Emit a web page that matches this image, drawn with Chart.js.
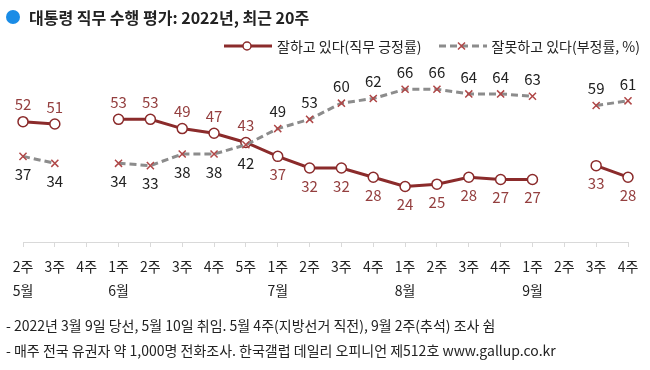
<!DOCTYPE html>
<html>
<head>
<meta charset="utf-8">
<script src="https://cdn.jsdelivr.net/npm/chart.js@4"></script>
<style>
  body { margin: 0; background: #fff; font-family: "Noto Sans CJK KR", sans-serif; color: #222; }
  .wrap { position: relative; width: 650px; height: 370px; overflow: hidden; }
  canvas { position: absolute; left: 0; top: 0; }
  .title { position: absolute; left: 6px; top: 5px; font-size: 16px; font-weight: 700; line-height: 24px; display: flex; align-items: center; }
  .title .dot { width: 14px; height: 14px; border-radius: 50%; background: #1a8ce6; margin-right: 9px; }
  .legend { position: absolute; right: 10px; top: 35px; font-size: 14px; line-height: 22px; display: flex; align-items: center; }
  .legend .item { display: flex; align-items: center; }
  .legend svg { margin-right: 4px; }
  .legend .item + .item { margin-left: 16px; }
  .notes { position: absolute; left: 6px; top: 313px; font-size: 14px; line-height: 25px; }
</style>
</head>
<body>
<div class="wrap">
  <canvas id="chart" width="650" height="370"></canvas>
  <div class="title"><span class="dot"></span>대통령 직무 수행 평가: 2022년, 최근 20주</div>
  <div class="legend">
    <div class="item">
      <svg width="50" height="12"><line x1="1" y1="6" x2="49" y2="6" stroke="#8b2b2b" stroke-width="3"/><circle cx="24" cy="6" r="4" fill="#fff" stroke="#8b2b2b" stroke-width="1.5"/></svg>
      <span>잘하고 있다(직무 긍정률)</span>
    </div>
    <div class="item">
      <svg width="50" height="12"><line x1="1" y1="6" x2="49" y2="6" stroke="#8c8c8c" stroke-width="3" stroke-dasharray="7 4"/><path d="M20 2.5 L27 9.5 M27 2.5 L20 9.5" stroke="#b04848" stroke-width="1.5"/></svg>
      <span>잘못하고 있다(부정률, %)</span>
    </div>
  </div>
  <div class="notes">
    <div>- 2022년 3월 9일 당선, 5월 10일 취임. 5월 4주(지방선거 직전), 9월 2주(추석) 조사 쉼</div>
    <div>- 매주 전국 유권자 약 1,000명 전화조사. 한국갤럽 데일리 오피니언 제512호 www.gallup.co.kr</div>
  </div>
</div>
<script>
const weeks = ['2주', '3주', '4주', '1주', '2주', '3주', '4주', '5주', '1주', '2주', '3주', '4주', '1주', '2주', '3주', '4주', '1주', '2주', '3주', '4주'];
const months = ['5월', '', '', '6월', '', '', '', '', '7월', '', '', '', '8월', '', '', '', '9월', '', '', ''];
const approve = [52, 51, null, 53, 53, 49, 47, 43, 37, 32, 32, 28, 24, 25, 28, 27, 27, null, 33, 28];
const disapprove = [37, 34, null, 34, 33, 38, 38, 42, 49, 53, 60, 62, 66, 66, 64, 64, 63, null, 59, 61];

const labels = weeks.map((w, i) => [w, months[i]]);

// value labels: whichever series is higher gets its label above the point
const valueLabels = {
  id: 'valueLabels',
  afterDatasetsDraw(chart) {
    const ctx = chart.ctx;
    ctx.save();
    ctx.font = '15px "Noto Sans CJK KR"';
    ctx.textAlign = 'center';
    ctx.textBaseline = 'middle';
    chart.data.datasets.forEach((ds, di) => {
      const other = chart.data.datasets[1 - di].data;
      chart.getDatasetMeta(di).data.forEach((pt, i) => {
        const v = ds.data[i];
        if (v == null) return;
        const above = v > other[i];
        ctx.fillStyle = di === 0 ? '#943f3f' : '#222';
        ctx.fillText(String(v), pt.x, pt.y + (above ? -17 : 18));
      });
    });
    ctx.restore();
  }
};

new Chart(document.getElementById('chart'), {
  type: 'line',
  data: {
    labels,
    datasets: [
      {
        label: '잘하고 있다(직무 긍정률)',
        data: approve,
        order: 1,
        borderColor: '#8b2b2b',
        borderWidth: 3,
        pointStyle: 'circle',
        pointRadius: 5,
        pointBorderWidth: 1.5,
        pointBackgroundColor: '#fff',
        pointBorderColor: '#8b2b2b',
        spanGaps: false,
        tension: 0
      },
      {
        label: '잘못하고 있다(부정률, %)',
        data: disapprove,
        order: 0,
        borderColor: '#8c8c8c',
        borderWidth: 3,
        borderDash: [7, 4],
        pointStyle: 'crossRot',
        pointRadius: 5,
        pointBorderWidth: 1.5,
        pointBorderColor: '#b04848',
        spanGaps: false,
        tension: 0
      }
    ]
  },
  options: {
    responsive: false,
    animation: false,
    layout: { padding: { top: 80, left: 23, right: 22, bottom: 0 } },
    plugins: {
      legend: { display: false },
      title: { display: false },
      tooltip: { enabled: false }
    },
    scales: {
      x: {
        offset: false,
        afterFit(scale) { scale.height = 128; },
        grid: { drawOnChartArea: false, drawTicks: true, tickLength: 5, color: '#d9d9d9' },
        border: { display: true, color: '#d9d9d9' },
        ticks: {
          autoSkip: false,
          maxRotation: 0,
          padding: 8,
          color: '#222',
          font: { family: '"Noto Sans CJK KR"', size: 14, lineHeight: 1.72 }
        }
      },
      y: {
        display: false,
        min: 0,
        max: 70
      }
    }
  },
  plugins: [valueLabels]
});
</script>
</body>
</html>
